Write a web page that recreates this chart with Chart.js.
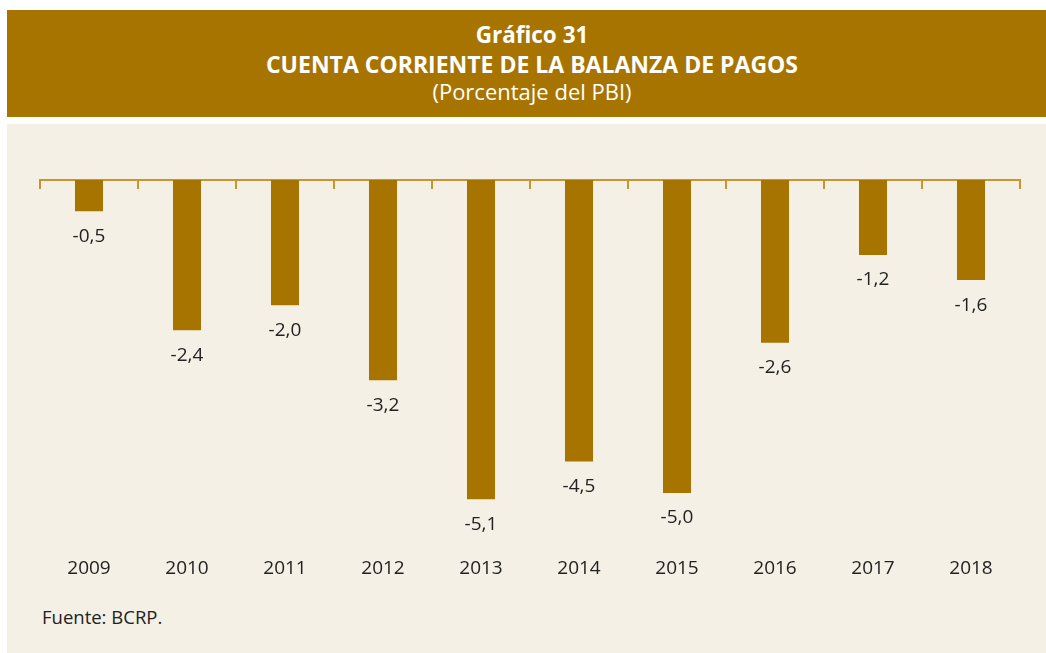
<!DOCTYPE html>
<html>
<head>
<meta charset="utf-8">
<script src="https://cdn.jsdelivr.net/npm/chart.js@4/dist/chart.umd.min.js"></script>
<style>
  body { margin: 0; background: #fff; font-family: 'Open Sans', 'Noto Sans', sans-serif; }
  #header {
    position: absolute; left: 7px; top: 10px; width: 1050px; height: 107px;
    background: #A87400; color: #fff; text-align: center;
  }
  #header .t1 { position: absolute; left: 0; right: 0; top: 12px; font-size: 22.5px; font-weight: bold; line-height: 26px; }
  #header .t2 { position: absolute; left: 0; right: 0; top: 41px; font-size: 23px; font-weight: bold; line-height: 26px; }
  #header .t3 { position: absolute; left: 0; right: 0; top: 68px; font-size: 22px; line-height: 26px; }
  #panel {
    position: absolute; left: 7px; top: 124px; width: 1039px; height: 529px;
    background: #F4F0E6;
  }
  #chartBox { position: absolute; left: 0; top: 0; width: 1039px; height: 464px; }
  #source { position: absolute; left: 35px; top: 481px; font-size: 18.5px; line-height: 24px; color: #222; }
</style>
</head>
<body>
<div id="header">
  <div class="t1">Gráfico 31</div>
  <div class="t2">CUENTA CORRIENTE DE LA BALANZA DE PAGOS</div>
  <div class="t3">(Porcentaje del PBI)</div>
</div>
<div id="panel">
  <div id="chartBox"><canvas id="myChart"></canvas></div>
  <div id="source">Fuente: BCRP.</div>
</div>
<script>
const years = ['2009', '2010', '2011', '2012', '2013', '2014', '2015', '2016', '2017', '2018'];
const currentAccount = [-0.5, -2.4, -2.0, -3.2, -5.1, -4.5, -5.0, -2.6, -1.2, -1.6];

// labels under each bar, comma decimal
const barLabels = {
    id: 'barLabels',
    afterDatasetsDraw(chart) {
        const ctx = chart.ctx;
        const meta = chart.getDatasetMeta(0);
        ctx.save();
        ctx.font = '19px "Open Sans", "Noto Sans", sans-serif';
        ctx.fillStyle = '#222';
        ctx.textAlign = 'center';
        ctx.textBaseline = 'middle';
        meta.data.forEach((bar, i) => {
            const txt = currentAccount[i].toFixed(1).replace('.', ',');
            ctx.fillText(txt, bar.x, bar.y + 25);
        });
        ctx.restore();
    }
};

const ctx = document.getElementById('myChart').getContext('2d');
new Chart(ctx, {
    type: 'bar',
    data: {
        labels: years,
        datasets: [{
            data: currentAccount,
            backgroundColor: '#A87400',
            barPercentage: 0.286,
            categoryPercentage: 1.0,
            xAxisID: 'x'
        }]
    },
    options: {
        responsive: true,
        maintainAspectRatio: false,
        animation: false,
        layout: { padding: { left: 33, right: 26, top: 56, bottom: 0 } },
        plugins: {
            legend: { display: false },
            tooltip: { enabled: false }
        },
        scales: {
            x: {
                type: 'category',
                offset: true,
                grid: { display: false, drawTicks: false },
                border: { display: false },
                ticks: {
                    color: '#222',
                    padding: 8,
                    font: { family: '"Open Sans", "Noto Sans", sans-serif', size: 19 }
                }
            },
            x2: {
                type: 'category',
                labels: years,
                offset: true,
                position: { y: 0 },
                grid: { offset: true, drawOnChartArea: false, drawTicks: true, tickLength: 8, color: '#C9952F', lineWidth: 2 },
                border: { display: true, color: '#C9952F', width: 2 },
                ticks: { display: false }
            },
            y: {
                display: false,
                min: -5.9,
                max: 0
            }
        }
    },
    plugins: [barLabels]
});
</script>
</body>
</html>
